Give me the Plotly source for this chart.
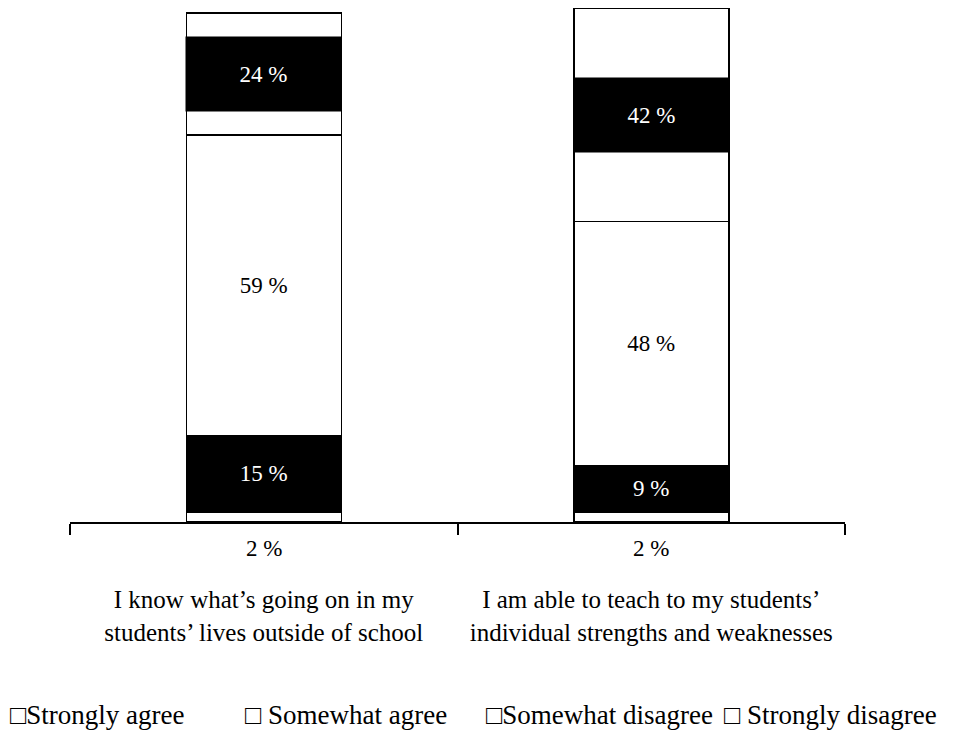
import plotly.graph_objects as go

categories = ["I know what’s going on in my<br>students’ lives outside of school",
              "I am able to teach to my students’<br>individual strengths and weaknesses"]
strongly_disagree = [2, 2]
somewhat_disagree = [15, 9]
somewhat_agree = [59, 48]
strongly_agree = [24, 42]
legend_labels = ["□Strongly agree", "□ Somewhat agree", "□Somewhat disagree", "□ Strongly disagree"]
legend_x = [-0.08, 0.2232, 0.5342, 0.8413]

FONT = "Liberation Serif"
LINE = dict(color="black", width=1.5)

fig = go.Figure()
# stacked from bottom
fig.add_trace(go.Bar(x=categories, y=strongly_disagree, name="Strongly disagree",
                     marker=dict(color="white", line=LINE)))
fig.add_trace(go.Bar(x=categories, y=somewhat_disagree, name="Somewhat disagree",
                     marker=dict(color="black", line=LINE),
                     text=[f"{v} %" for v in somewhat_disagree], textposition="inside",
                     insidetextanchor="middle", textangle=0,
                     textfont=dict(color="white", size=23, family=FONT)))
fig.add_trace(go.Bar(x=categories, y=somewhat_agree, name="Somewhat agree",
                     marker=dict(color="white", line=LINE),
                     text=[f"{v} %" for v in somewhat_agree], textposition="inside",
                     insidetextanchor="middle", textangle=0,
                     textfont=dict(color="black", size=23, family=FONT)))
fig.add_trace(go.Bar(x=categories, y=strongly_agree, name="Strongly agree",
                     marker=dict(color="white", line=LINE)))

annotations = []
for i, cat in enumerate(categories):
    # strongly disagree labels below the axis
    annotations.append(dict(x=cat, y=0, xref="x", yref="y", yanchor="top", yshift=-12,
                            text=f"{strongly_disagree[i]} %", showarrow=False,
                            font=dict(size=23, family=FONT, color="black")))
    # strongly agree label on dark band
    base = strongly_disagree[i] + somewhat_disagree[i] + somewhat_agree[i]
    annotations.append(dict(x=cat, y=base + strongly_agree[i] / 2, xref="x", yref="y",
                            text=f"{strongly_agree[i]} %", showarrow=False,
                            bgcolor="black", width=155, height=74, borderpad=0,
                            font=dict(size=23, family=FONT, color="white")))

# legend row (open boxes for every series, as in the source)
for lbl, lx in zip(legend_labels, legend_x):
    annotations.append(dict(x=lx, y=-0.3755, xref="paper", yref="paper",
                            xanchor="left", yanchor="middle", text=lbl, showarrow=False,
                            font=dict(size=27, family=FONT, color="black")))

fig.update_layout(
    barmode="stack", bargap=0.6, showlegend=False,
    width=969, height=723,
    margin=dict(l=62, r=132, t=0, b=209, autoexpand=False),
    plot_bgcolor="white", paper_bgcolor="white",
    font=dict(family=FONT, color="black", size=24),
    annotations=annotations,
    xaxis=dict(showline=True, linecolor="black", linewidth=2, ticks="outside",
               tickson="boundaries", ticklen=11, tickwidth=2, tickcolor="black",
               ticklabelstandoff=54, tickfont=dict(size=25, family=FONT, color="black")),
    yaxis=dict(range=[0, 101], visible=False, showgrid=False),
)

fig.write_html("out.html")
